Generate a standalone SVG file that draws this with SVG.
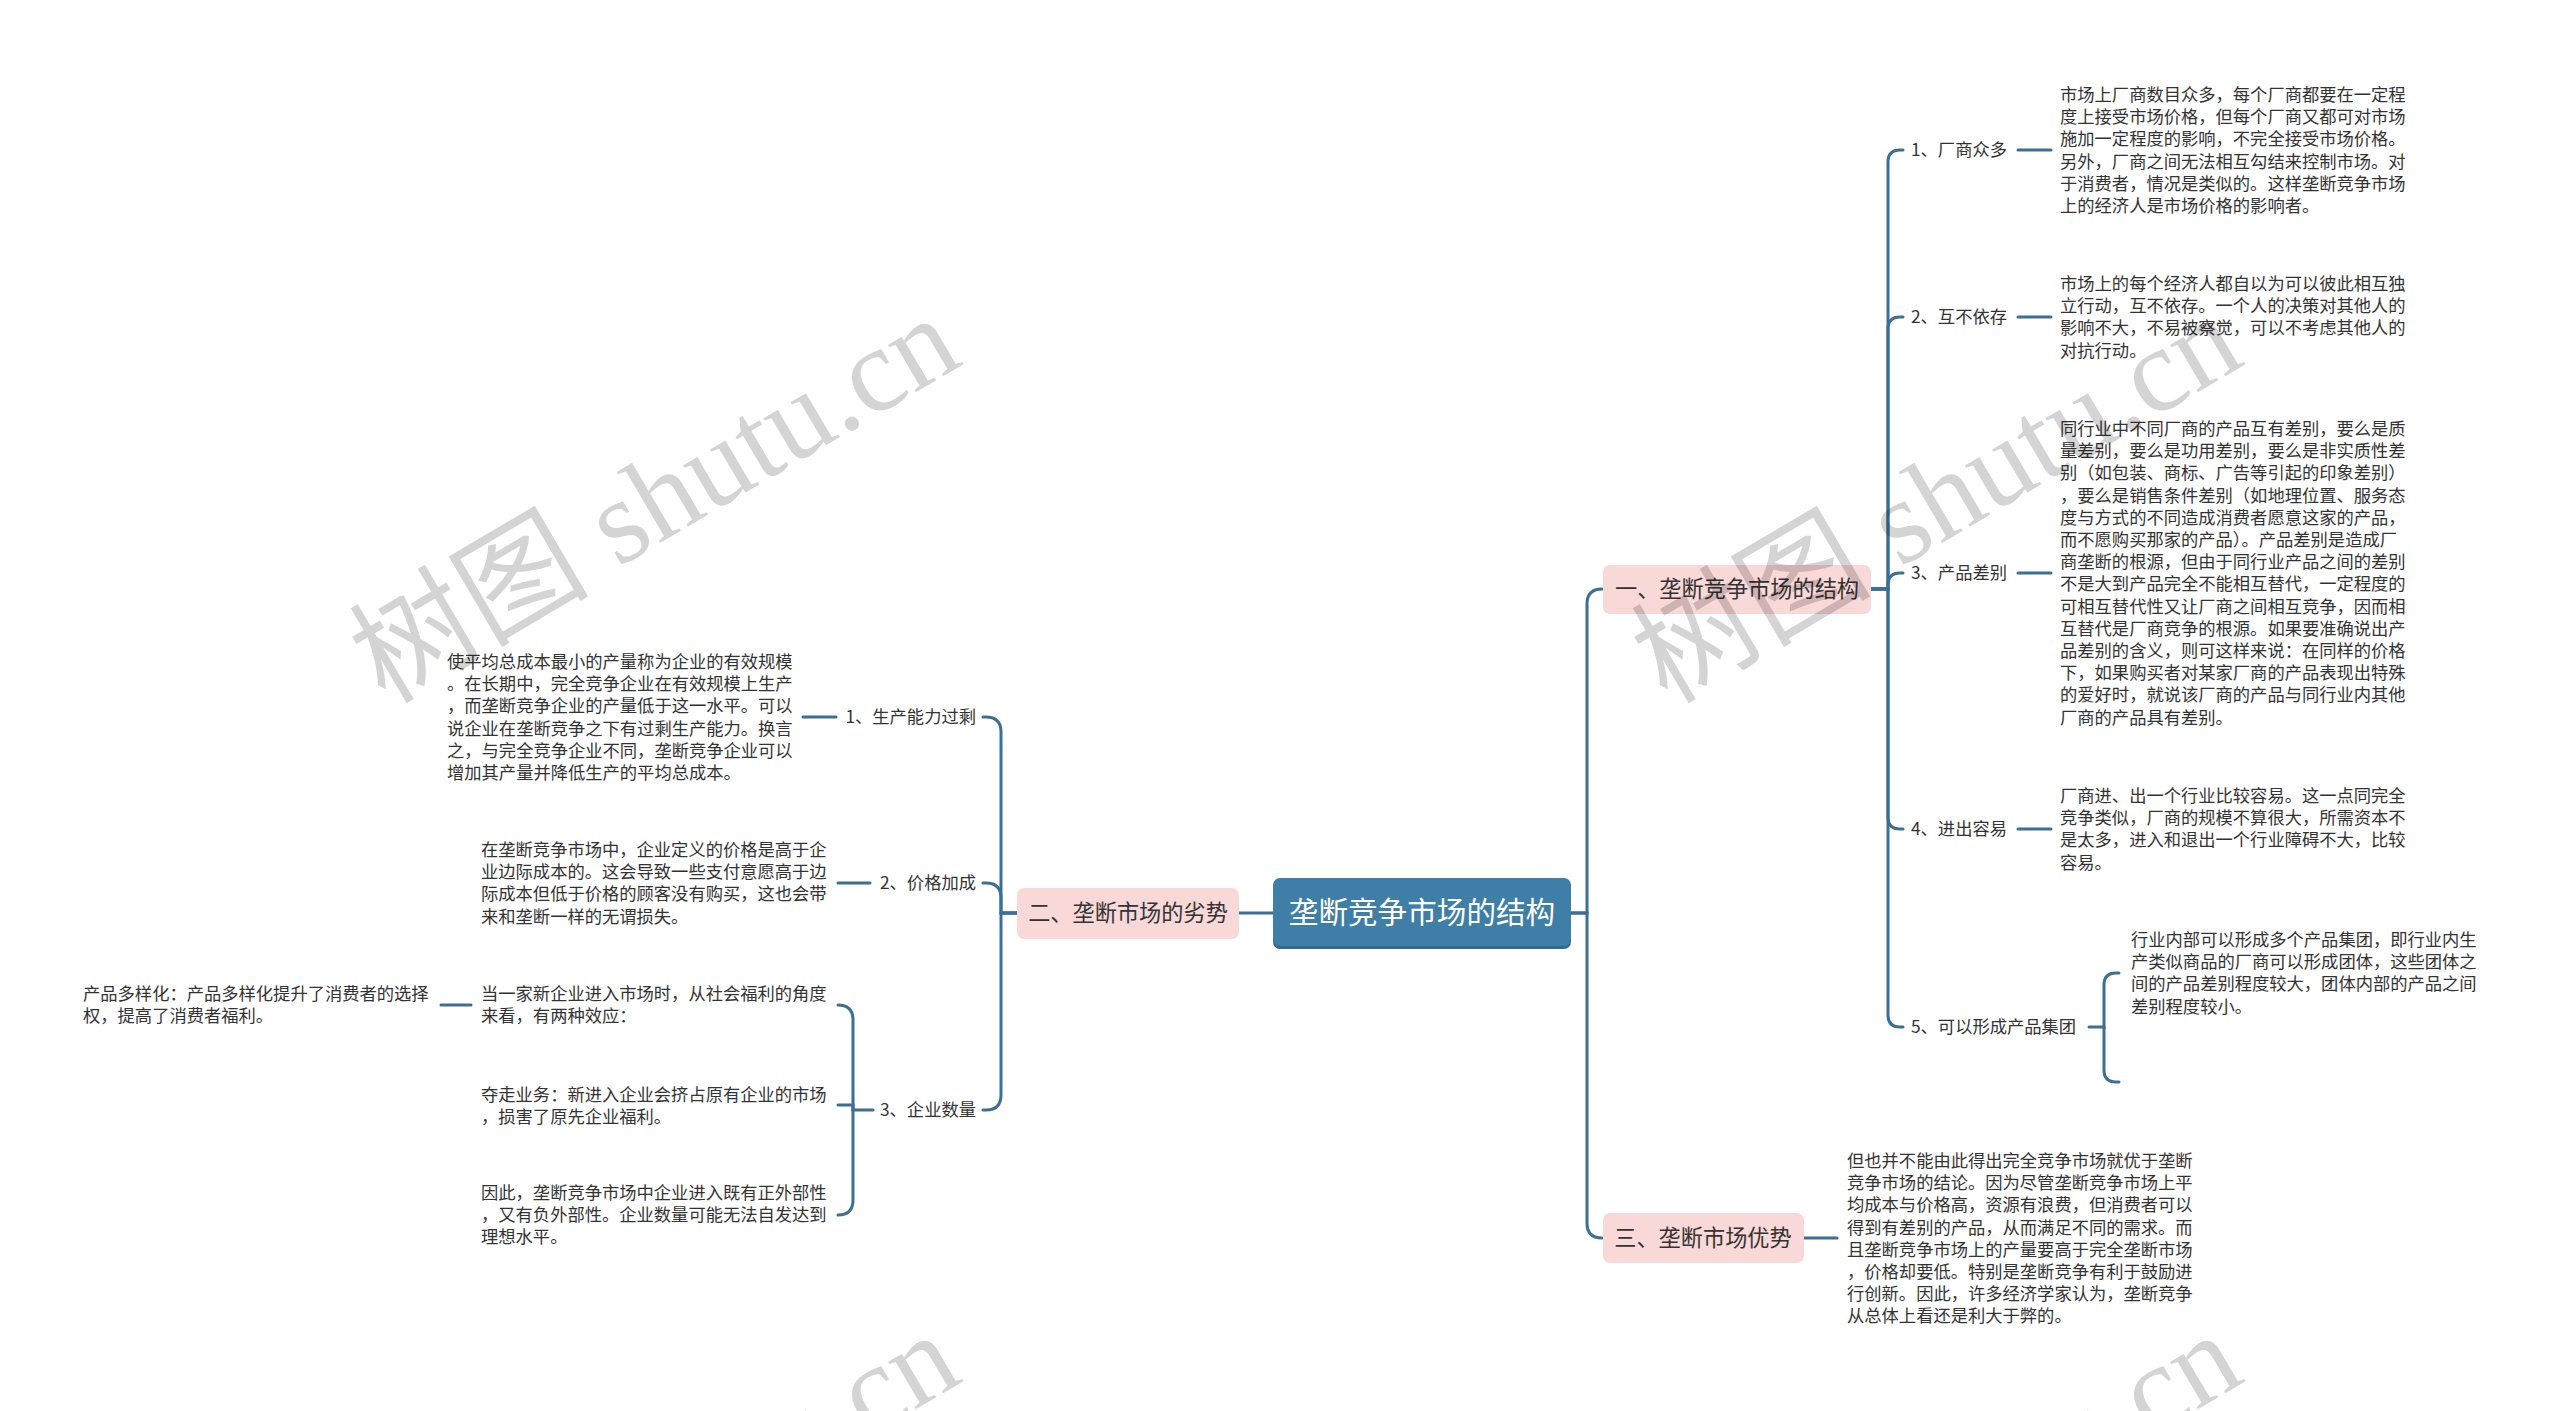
<svg xmlns="http://www.w3.org/2000/svg" width="2560" height="1411" viewBox="0 0 2560 1411">
<style>
.bg{fill:#ffffff}
.c{fill:none;stroke:#3d6f93;stroke-width:3;stroke-linecap:round}
.t{font-family:"Noto Sans CJK SC","Noto Sans",sans-serif;font-size:17.3px;fill:#333333}
.b{font-family:"Noto Sans CJK SC","Noto Sans",sans-serif;font-size:22.2px;fill:#333333}
.m{font-family:"Noto Sans CJK SC","Noto Sans",sans-serif;font-size:29.6px;fill:#ffffff}
.pk{fill:#f9d8d8}
.wm{font-family:"Liberation Serif","Noto Sans CJK SC",serif;font-size:120px;fill:#000000;fill-opacity:0.17}
</style>
<rect class="bg" x="0" y="0" width="2560" height="1411"/>

<g id="connectors">
  <path class="c" d="M1571 913 H1587 V604 Q1587 589 1602 589"/>
  <path class="c" d="M1571 913 H1587 V1223 Q1587 1238 1602 1238"/>
  <path class="c" d="M1239 913 H1273"/>
  <path class="c" d="M1870 589 H1888 V162 Q1888 150 1900 150 H1903"/>
  <path class="c" d="M1870 589 H1888 V329 Q1888 317 1900 317 H1903"/>
  <path class="c" d="M1870 589 H1888 V585 Q1888 573 1900 573 H1903"/>
  <path class="c" d="M1870 589 H1888 V817 Q1888 829 1900 829 H1903"/>
  <path class="c" d="M1870 589 H1888 V1015 Q1888 1027 1900 1027 H1903"/>
  <path class="c" d="M2018 150 H2051"/>
  <path class="c" d="M2018 317 H2051"/>
  <path class="c" d="M2018 573 H2051"/>
  <path class="c" d="M2018 829 H2051"/>
  <path class="c" d="M2089 1027 H2104 V985 Q2104 973 2116 973 H2119"/>
  <path class="c" d="M2104 1027 V1070 Q2104 1082 2116 1082 H2119"/>
  <path class="c" d="M1804 1238 H1837"/>
  <path class="c" d="M1017 913 H1001 V732 Q1001 717 986 717 H983"/>
  <path class="c" d="M1017 913 H1001 V898 Q1001 883 986 883 H983"/>
  <path class="c" d="M1017 913 H1001 V1095 Q1001 1110 986 1110 H983"/>
  <path class="c" d="M803 717 H836"/>
  <path class="c" d="M838 883 H870"/>
  <path class="c" d="M873 1110 H853 V1020 Q853 1005 838 1005"/>
  <path class="c" d="M853 1110 V1105 H838"/>
  <path class="c" d="M853 1110 V1200 Q853 1215 838 1215"/>
  <path class="c" d="M471 1005 H441"/>
</g>

<g id="root">
  <rect x="1273" y="880" width="298" height="69" rx="7" fill="#336a8d"/>
  <rect x="1273" y="878" width="298" height="68" rx="7" fill="#3f7ea6"/>
  <text class="m" x="1422" y="923" text-anchor="middle">垄断竞争市场的结构</text>
</g>

<g id="b1">
  <rect class="pk" x="1603" y="565" width="268" height="49" rx="7"/>
  <text class="b" x="1737" y="597" text-anchor="middle">一、垄断竞争市场的结构</text>
</g>
<g id="b2">
  <rect class="pk" x="1017" y="888" width="222" height="51" rx="7"/>
  <text class="b" x="1128" y="921" text-anchor="middle">二、垄断市场的劣势</text>
</g>
<g id="b3">
  <rect class="pk" x="1603" y="1213" width="201" height="50" rx="7"/>
  <text class="b" x="1703" y="1246" text-anchor="middle">三、垄断市场优势</text>
</g>

<g id="r1">
  <text class="t" x="1911" y="156">1、厂商众多</text>
  <text class="t" x="2060" y="101"><tspan x="2060">市场上厂商数目众多，每个厂商都要在一定程</tspan><tspan x="2060" dy="22.2">度上接受市场价格，但每个厂商又都可对市场</tspan><tspan x="2060" dy="22.2">施加一定程度的影响，不完全接受市场价格。</tspan><tspan x="2060" dy="22.2">另外，厂商之间无法相互勾结来控制市场。对</tspan><tspan x="2060" dy="22.2">于消费者，情况是类似的。这样垄断竞争市场</tspan><tspan x="2060" dy="22.2">上的经济人是市场价格的影响者。</tspan></text>
</g>
<g id="r2">
  <text class="t" x="1911" y="323">2、互不依存</text>
  <text class="t" x="2060" y="290"><tspan x="2060">市场上的每个经济人都自以为可以彼此相互独</tspan><tspan x="2060" dy="22.2">立行动，互不依存。一个人的决策对其他人的</tspan><tspan x="2060" dy="22.2">影响不大，不易被察觉，可以不考虑其他人的</tspan><tspan x="2060" dy="22.2">对抗行动。</tspan></text>
</g>
<g id="r3">
  <text class="t" x="1911" y="579">3、产品差别</text>
  <text class="t" x="2060" y="435"><tspan x="2060">同行业中不同厂商的产品互有差别，要么是质</tspan><tspan x="2060" dy="22.2">量差别，要么是功用差别，要么是非实质性差</tspan><tspan x="2060" dy="22.2">别（如包装、商标、广告等引起的印象差别）</tspan><tspan x="2060" dy="22.2">，要么是销售条件差别（如地理位置、服务态</tspan><tspan x="2060" dy="22.2">度与方式的不同造成消费者愿意这家的产品，</tspan><tspan x="2060" dy="22.2">而不愿购买那家的产品）。产品差别是造成厂</tspan><tspan x="2060" dy="22.2">商垄断的根源，但由于同行业产品之间的差别</tspan><tspan x="2060" dy="22.2">不是大到产品完全不能相互替代，一定程度的</tspan><tspan x="2060" dy="22.2">可相互替代性又让厂商之间相互竞争，因而相</tspan><tspan x="2060" dy="22.2">互替代是厂商竞争的根源。如果要准确说出产</tspan><tspan x="2060" dy="22.2">品差别的含义，则可这样来说：在同样的价格</tspan><tspan x="2060" dy="22.2">下，如果购买者对某家厂商的产品表现出特殊</tspan><tspan x="2060" dy="22.2">的爱好时，就说该厂商的产品与同行业内其他</tspan><tspan x="2060" dy="22.2">厂商的产品具有差别。</tspan></text>
</g>
<g id="r4">
  <text class="t" x="1911" y="835">4、进出容易</text>
  <text class="t" x="2060" y="802"><tspan x="2060">厂商进、出一个行业比较容易。这一点同完全</tspan><tspan x="2060" dy="22.2">竞争类似，厂商的规模不算很大，所需资本不</tspan><tspan x="2060" dy="22.2">是太多，进入和退出一个行业障碍不大，比较</tspan><tspan x="2060" dy="22.2">容易。</tspan></text>
</g>
<g id="r5">
  <text class="t" x="1911" y="1033">5、可以形成产品集团</text>
  <text class="t" x="2131" y="946"><tspan x="2131">行业内部可以形成多个产品集团，即行业内生</tspan><tspan x="2131" dy="22.2">产类似商品的厂商可以形成团体，这些团体之</tspan><tspan x="2131" dy="22.2">间的产品差别程度较大，团体内部的产品之间</tspan><tspan x="2131" dy="22.2">差别程度较小。</tspan></text>
</g>
<g id="r6">
  <text class="t" x="1847" y="1167"><tspan x="1847">但也并不能由此得出完全竞争市场就优于垄断</tspan><tspan x="1847" dy="22.2">竞争市场的结论。因为尽管垄断竞争市场上平</tspan><tspan x="1847" dy="22.2">均成本与价格高，资源有浪费，但消费者可以</tspan><tspan x="1847" dy="22.2">得到有差别的产品，从而满足不同的需求。而</tspan><tspan x="1847" dy="22.2">且垄断竞争市场上的产量要高于完全垄断市场</tspan><tspan x="1847" dy="22.2">，价格却要低。特别是垄断竞争有利于鼓励进</tspan><tspan x="1847" dy="22.2">行创新。因此，许多经济学家认为，垄断竞争</tspan><tspan x="1847" dy="22.2">从总体上看还是利大于弊的。</tspan></text>
</g>

<g id="l1">
  <text class="t" x="976" y="723" text-anchor="end">1、生产能力过剩</text>
  <text class="t" x="447" y="668"><tspan x="447">使平均总成本最小的产量称为企业的有效规模</tspan><tspan x="447" dy="22.2">。在长期中，完全竞争企业在有效规模上生产</tspan><tspan x="447" dy="22.2">，而垄断竞争企业的产量低于这一水平。可以</tspan><tspan x="447" dy="22.2">说企业在垄断竞争之下有过剩生产能力。换言</tspan><tspan x="447" dy="22.2">之，与完全竞争企业不同，垄断竞争企业可以</tspan><tspan x="447" dy="22.2">增加其产量并降低生产的平均总成本。</tspan></text>
</g>
<g id="l2">
  <text class="t" x="976" y="889" text-anchor="end">2、价格加成</text>
  <text class="t" x="481" y="856"><tspan x="481">在垄断竞争市场中，企业定义的价格是高于企</tspan><tspan x="481" dy="22.2">业边际成本的。这会导致一些支付意愿高于边</tspan><tspan x="481" dy="22.2">际成本但低于价格的顾客没有购买，这也会带</tspan><tspan x="481" dy="22.2">来和垄断一样的无谓损失。</tspan></text>
</g>
<g id="l3">
  <text class="t" x="976" y="1116" text-anchor="end">3、企业数量</text>
</g>
<g id="l3a">
  <text class="t" x="481" y="1000"><tspan x="481">当一家新企业进入市场时，从社会福利的角度</tspan><tspan x="481" dy="22.2">来看，有两种效应：</tspan></text>
</g>
<g id="l3a1">
  <text class="t" x="83" y="1000"><tspan x="83">产品多样化：产品多样化提升了消费者的选择</tspan><tspan x="83" dy="22.2">权，提高了消费者福利。</tspan></text>
</g>
<g id="l3b">
  <text class="t" x="481" y="1101"><tspan x="481">夺走业务：新进入企业会挤占原有企业的市场</tspan><tspan x="481" dy="22.2">，损害了原先企业福利。</tspan></text>
</g>
<g id="l3c">
  <text class="t" x="481" y="1199"><tspan x="481">因此，垄断竞争市场中企业进入既有正外部性</tspan><tspan x="481" dy="22.2">，又有负外部性。企业数量可能无法自发达到</tspan><tspan x="481" dy="22.2">理想水平。</tspan></text>
</g>

<g id="watermarks">
  <text class="wm" transform="translate(385,705) rotate(-30.5)">树图 shutu.cn</text>
  <text class="wm" transform="translate(1667,705) rotate(-30.5)">树图 shutu.cn</text>
  <text class="wm" transform="translate(385,1722) rotate(-30.5)">树图 shutu.cn</text>
  <text class="wm" transform="translate(1667,1722) rotate(-30.5)">树图 shutu.cn</text>
</g>
</svg>
